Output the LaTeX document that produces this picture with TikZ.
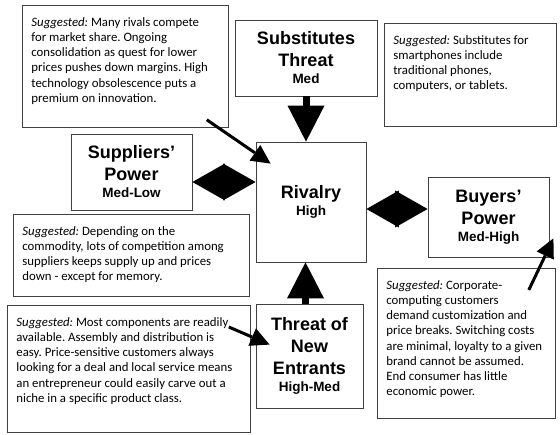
\documentclass[tikz,border=0pt]{standalone}
\usepackage{fontspec}
\setmainfont{Carlito}
\newfontfamily\headfont{Liberation Sans}
\usetikzlibrary{arrows.meta,calc}
\newcommand{\sugtext}[3]{\parbox[t][#2][t]{#1}{\raggedright\leftskip=9pt\frenchspacing\fontsize{12.8}{15.2}\selectfont\vspace*{12pt}\textit{Suggested:} #3}}
\newcommand{\lvl}[1]{\\[-5pt]{\fontsize{13.5}{16}\selectfont #1}}
\tikzset{
	force/.style={draw=black!75,line width=0.8pt,fill=white,align=center,inner sep=0pt,font=\headfont\bfseries\fontsize{18}{22}\selectfont},
	sugbox/.style={draw=black!75,line width=0.8pt,anchor=north west,inner sep=0pt},
	fat/.style={line width=7pt,-{Triangle[length=36pt,width=37pt,line width=0pt]}},
	half/.style={line width=7pt,-{Triangle[length=32.5pt,width=37pt,line width=0pt]}},
	pointer/.style={line width=3pt,-{Triangle[length=19pt,width=19pt,line width=0pt]}}
}
\begin{document}
\begin{tikzpicture}[x=1pt,y=1pt]
	\useasboundingbox[fill=white] (0,0) rectangle (560,435);
	% the five forces
	\node[force,minimum width=142pt,minimum height=76pt] (subst) at (306,377) {Substitutes\\Threat\lvl{Med}};
	\node[force,minimum width=121pt,minimum height=76pt] (suppl) at (131.5,263) {Suppliers’\\Power\lvl{Med-Low}};
	\node[force,minimum width=110pt,minimum height=120pt] (rivalry) at (311,233) {Rivalry\lvl{High}};
	\node[force,minimum width=121pt,minimum height=80pt] (buyers) at (488.5,218) {Buyers’\\Power\lvl{Med-High}};
	\node[force,minimum width=107pt,minimum height=104pt] (entr) at (309.5,79) {Threat of\\New\\Entrants\lvl{High-Med}};
	% suggestions
	\node[sugbox] (rivaltxt) at (22,430) {\sugtext{206pt}{122pt}{Many rivals compete\\for market share. Ongoing\\consolidation as quest for lower\\prices pushes down margins. High\\technology obsolescence puts a\\premium on innovation.}};
	\node[sugbox] (substtxt) at (384,412) {\sugtext{172pt}{103pt}{Substitutes for\\smartphones include\\traditional phones,\\computers, or tablets.}};
	\node[sugbox] (suppltxt) at (13,221) {\sugtext{236pt}{82pt}{Depending on the\\commodity, lots of competition among\\suppliers keeps supply up and prices\\down - except for memory.}};
	\node[sugbox] (entrtxt) at (7,130) {\sugtext{243pt}{127pt}{Most components are readily\\available. Assembly and distribution is\\easy. Price-sensitive customers always\\looking for a deal and local service means\\an entrepreneur could easily carve out a\\niche in a specific product class.}};
	\node[sugbox] (buyerstxt) at (377,167) {\sugtext{178pt}{150pt}{Corporate-\\computing customers\\demand customization and\\price breaks. Switching costs\\are minimal, loyalty to a given\\brand cannot be assumed.\\End consumer has little\\economic power.}};
	% arrows
	\coordinate (up) at ([xshift=-4pt]entr.north);
	\coordinate (dl) at ([yshift=-10pt]suppl.east);
	\coordinate (dr) at ([yshift=8pt]buyers.west);
	\coordinate (dlm) at ($(dl)!.5!(dl -| rivalry.west)$);
	\coordinate (drm) at ($(dr)!.5!(dr -| rivalry.east)$);
	\draw[fat] (subst.south) -- (subst.south |- rivalry.north);
	\draw[fat] (up) -- (up |- rivalry.south);
	\draw[half] ([xshift=3pt]dlm) -- (dl);
	\draw[half] ([xshift=-3pt]dlm) -- (dl -| rivalry.west);
	\draw[half] ([xshift=-3pt]drm) -- (dr -| rivalry.east);
	\draw[half] ([xshift=3pt]drm) -- (dr);
	\coordinate (p1) at ([shift={(-22pt,8pt)}]rivaltxt.south east);
	\coordinate (p1e) at ([shift={(15pt,-22pt)}]rivalry.north west);
	\coordinate (p2) at ([shift={(-22pt,-22pt)}]entrtxt.north east);
	\coordinate (p2e) at ([shift={(14pt,-41pt)}]entr.north west);
	\coordinate (p3) at ([shift={(-27pt,-22pt)}]buyerstxt.north east);
	\coordinate (p3e) at ([shift={(4pt,19pt)}]buyers.south east);
	\draw[pointer] (p1) -- (p1e);
	\draw[pointer] (p2) -- (p2e);
	\draw[pointer] (p3) -- (p3e);
\end{tikzpicture}
\end{document}
